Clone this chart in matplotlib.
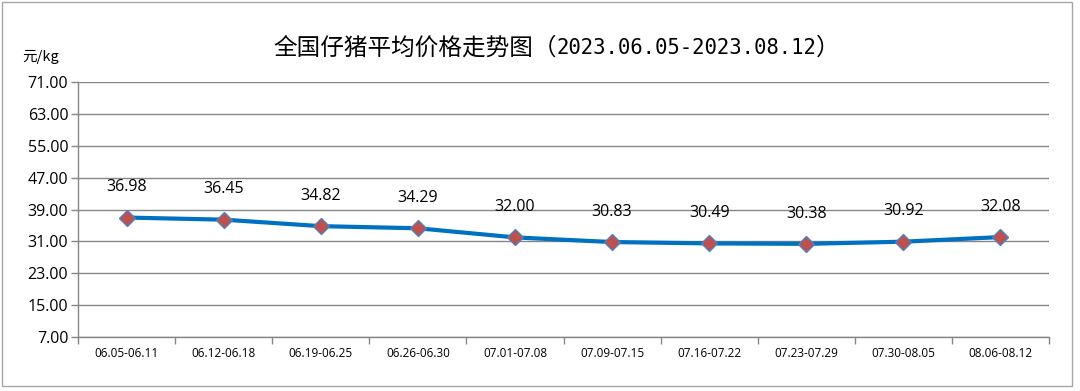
import matplotlib
matplotlib.use("Agg")
import matplotlib.pyplot as plt
from matplotlib.patches import Rectangle
import numpy as np

plt.rcParams['font.family'] = ['Noto Sans CJK SC', 'DejaVu Sans']

categories = ["06.05-06.11", "06.12-06.18", "06.19-06.25", "06.26-06.30", "07.01-07.08",
              "07.09-07.15", "07.16-07.22", "07.23-07.29", "07.30-08.05", "08.06-08.12"]
prices = [36.98, 36.45, 34.82, 34.29, 32.00, 30.83, 30.49, 30.38, 30.92, 32.08]
yticks = [7, 15, 23, 31, 39, 47, 55, 63, 71]
title_parts = ["全国仔猪平均价格走势图（", "2023.06.05-2023.08.12", "）"]
unit_label = "元/kg"

W, H = 1080, 391
fig = plt.figure(figsize=(W/100, H/100), dpi=100)
fig.patch.set_facecolor('white')
fig.add_artist(Rectangle((2/W, 1-386/H), 1070/W, 384/H, transform=fig.transFigure,
                         fill=False, edgecolor='#a6a6a6', linewidth=1.0))

ax = fig.add_axes([78/W, 1-337/H, 971/W, 255/H])
x = np.arange(len(categories))
ax.plot(x, prices, color='#0070C0', linewidth=3, marker='D', markersize=8.5,
        markerfacecolor='#C0504D', markeredgecolor='#4F81BD', markeredgewidth=1.0, zorder=3)
for xi, v in zip(x, prices):
    ax.annotate(f"{v:.2f}", (xi, v), xytext=(0, 16), textcoords='offset points',
                ha='center', va='bottom', fontsize=11.5, family='Open Sans', color='black')

ax.set_xlim(-0.5, len(categories) - 0.5)
ax.set_ylim(7, 71)
ax.set_yticks(yticks)
ax.set_yticklabels([f"{v:.2f}" for v in yticks], fontsize=11.5, family='Open Sans')
ax.set_xticks(x)
ax.set_xticklabels(categories, fontsize=8.5, family='Open Sans')
ax.set_xticks(np.arange(len(categories) + 1) - 0.5, minor=True)
ax.tick_params(axis='x', which='major', length=0, pad=7)
ax.tick_params(axis='x', which='minor', length=5, color='#868686', width=1)
ax.tick_params(axis='y', length=5, color='#868686', width=1, pad=2)
ax.grid(axis='y', color='#868686', linewidth=1)
ax.set_axisbelow(True)
for s in ['top', 'right']:
    ax.spines[s].set_visible(False)
for s in ['left', 'bottom']:
    ax.spines[s].set_color('#868686')
    ax.spines[s].set_linewidth(1)

# Title in three parts: CJK text, monospace digits, closing paren
renderer = fig.canvas.get_renderer()
xpos = 273
ty = 1 - 48/H
specs = [dict(fontsize=17, family=['Noto Sans CJK SC']),
         dict(fontsize=14.9, family=['DejaVu Sans Mono']),
         dict(fontsize=17, family=['Noto Sans CJK SC'])]
for part, spec in zip(title_parts, specs):
    t = fig.text(xpos/W, ty, part, ha='left', va='center', color='black', **spec)
    bb = t.get_window_extent(renderer=renderer)
    xpos += bb.width

fig.text(22/W, 1-57/H, unit_label, ha='left', va='center', fontsize=10.5, color='black')

fig.savefig("out.png", dpi=100)
